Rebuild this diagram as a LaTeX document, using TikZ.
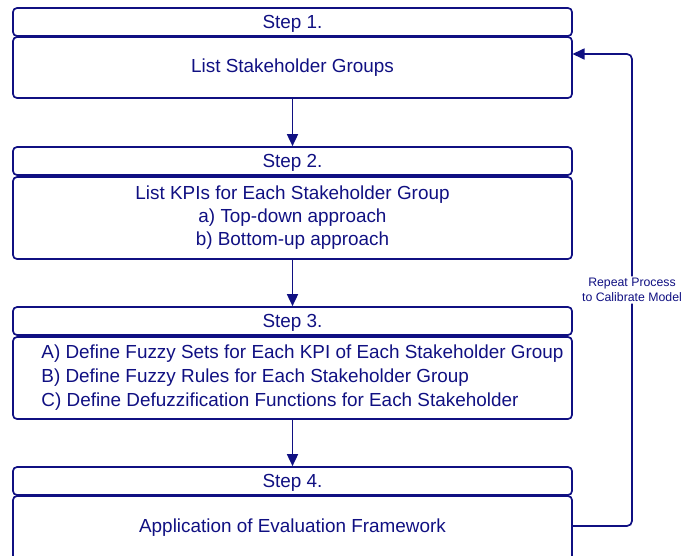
\documentclass[tikz,border=0pt]{standalone}
\usepackage{fontspec}
\setmainfont{Liberation Sans}
\usepackage{tikz}
\usetikzlibrary{arrows.meta}
\definecolor{stepblue}{RGB}{16, 16, 130}

\begin{document}
\begin{tikzpicture}[x = 1pt, y = -1pt, line width = 1.7pt, draw = stepblue,
	head/.style = {draw, rounded corners = 4pt, minimum width = 559pt, minimum height = 28pt, inner sep = 0pt, text depth = 0pt, text = stepblue, font = \fontsize{18.9}{18.9}\selectfont},
	body/.style = {draw, rounded corners = 4pt, minimum width = 559pt, inner sep = 0pt, align = center, text = stepblue, font = \fontsize{18.9}{23}\selectfont},
	flow/.style = {-{Triangle[length = 12pt, width = 11pt]}}]
			\useasboundingbox (0,0) rectangle (683,555);
			\clip (0,0) rectangle (683,555);
			\node (h1) at (292.5,22) [head] {Step 1.};
			\node (b1) at (292.5,67.5) [body, minimum height = 61pt] {List Stakeholder Groups};
			\node (h2) at (292.5,161) [head] {Step 2.};
			\node (b2) at (292.5,218) [body, minimum height = 82pt] {List KPIs for Each Stakeholder Group\\a) Top-down approach\\b) Bottom-up approach};
			\node (h3) at (292.5,321) [head] {Step 3.};
			\node (b3) at (292.5,378) [body, minimum height = 82pt] {\hspace*{20pt}\begin{tabular}{@{}l@{}}A) Define Fuzzy Sets for Each KPI of Each Stakeholder Group\\[0.7pt]B) Define Fuzzy Rules for Each Stakeholder Group\\[0.7pt]C) Define Defuzzification Functions for Each Stakeholder\end{tabular}};
			\node (h4) at (292.5,481) [head] {Step 4.};
			\node (b4) at (292.5,528) [body, minimum height = 64pt] {\raisebox{2pt}{Application of Evaluation Framework}};
			\coordinate (back) at (572.5,54);
			\draw[flow] (b1) -- (h2);
			\draw[flow] (b2) -- (h3);
			\draw[flow] (b3) -- (h4);
			\draw[flow, rounded corners = 5pt] ([yshift = 2pt]b4.east) -- (632,526) -- node [fill = white, text = stepblue, align = center, inner sep = 2pt, font = \fontsize{12.3}{14.8}\selectfont] {Repeat Process\\to Calibrate Model} (632,54) -- (back);
			\end{tikzpicture}
\end{document}
